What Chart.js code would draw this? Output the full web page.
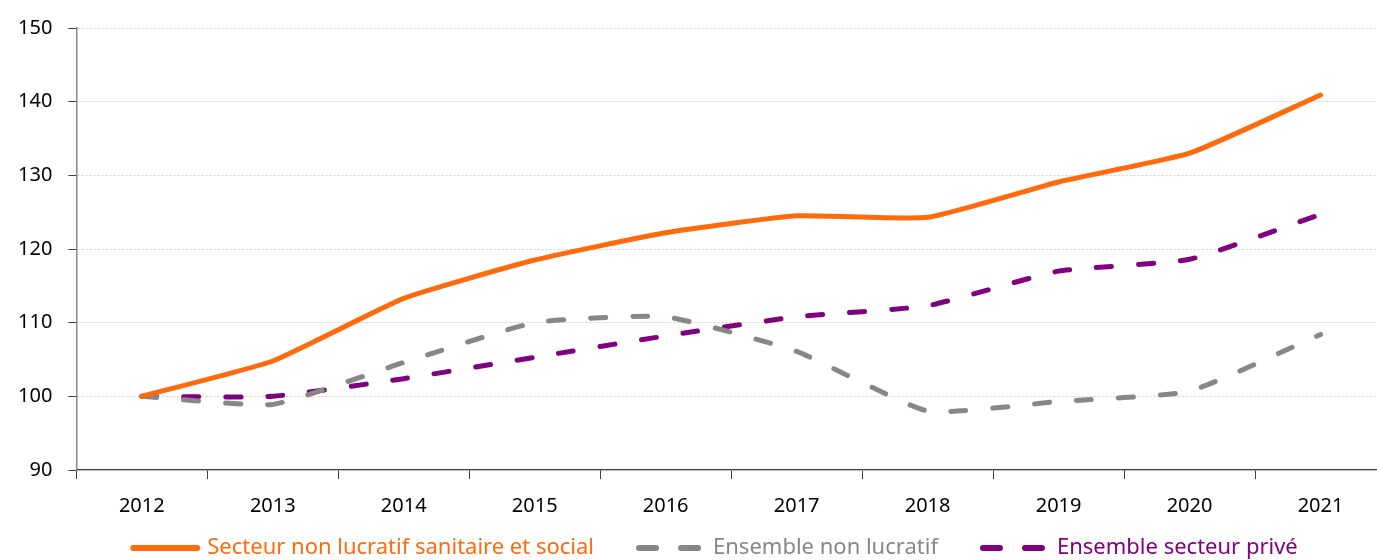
<!DOCTYPE html>
<html lang="fr">
<head>
<meta charset="utf-8">
<script src="https://cdn.jsdelivr.net/npm/chart.js@4/dist/chart.umd.min.js"></script>
<style>
  html, body { margin: 0; padding: 0; background: #fff; overflow: hidden; }
  #wrap { position: relative; width: 1386px; height: 560px; }
</style>
</head>
<body>
<div id="wrap"><canvas id="chart"></canvas></div>
<script>
const annees = ['2012', '2013', '2014', '2015', '2016', '2017', '2018', '2019', '2020', '2021'];
const sanitaireSocial = [100, 104.8, 113.3, 118.5, 122.2, 124.5, 124.3, 129.1, 133.0, 140.9];
const nonLucratif = [100, 98.9, 104.6, 110.0, 110.8, 106.1, 98.0, 99.3, 100.7, 108.4];
const secteurPrive = [100, 100, 102.4, 105.3, 108.2, 110.8, 112.3, 117.0, 118.6, 124.7];
const yTicks = [90, 100, 110, 120, 130, 140, 150];

const police = "'Noto Sans', 'Open Sans', sans-serif";

// légende dessinée à la main pour garder l'espacement de l'original
const legendeBas = {
    id: 'legendeBas',
    afterDraw(chart) {
        const c = chart.ctx;
        const y = 548;
        const trait = 70, ecart = 7, entre = 42;
        c.save();
        c.font = '22px ' + police;
        c.textBaseline = 'middle';
        const items = chart.data.datasets.map(ds => ({ ds, w: c.measureText(ds.label).width }));
        const total = items.reduce((s, it) => s + trait + ecart + it.w, 0) + entre * (items.length - 1);
        let x = 714 - total / 2;
        items.forEach(({ ds, w }) => {
            c.strokeStyle = ds.borderColor;
            c.lineWidth = 6;
            c.lineCap = 'round';
            c.setLineDash(ds.borderDash ? [17, 25] : []);
            c.beginPath();
            c.moveTo(x + 3, y);
            c.lineTo(x + trait - 3, y);
            c.stroke();
            c.setLineDash([]);
            c.fillStyle = ds.borderColor;
            c.fillText(ds.label, x + trait + ecart, y);
            x += trait + ecart + w + entre;
        });
        c.restore();
    }
};

const ctx = document.getElementById('chart').getContext('2d');
new Chart(ctx, {
    type: 'line',
    data: {
        labels: annees,
        datasets: [
            {
                label: 'Secteur non lucratif sanitaire et social',
                data: sanitaireSocial,
                borderColor: '#ff6a0d',
                borderWidth: 5,
                borderCapStyle: 'round',
                tension: 0.15,
                pointRadius: 0
            },
            {
                label: 'Ensemble non lucratif',
                data: nonLucratif,
                borderColor: '#878787',
                borderWidth: 5,
                borderDash: [15, 27],
                borderCapStyle: 'round',
                tension: 0.15,
                pointRadius: 0
            },
            {
                label: 'Ensemble secteur privé',
                data: secteurPrive,
                borderColor: '#800080',
                borderWidth: 5,
                borderDash: [15, 27],
                borderCapStyle: 'round',
                tension: 0.15,
                pointRadius: 0
            }
        ]
    },
    plugins: [legendeBas],
    options: {
        responsive: true,
        maintainAspectRatio: false,
        animation: false,
        layout: { padding: { top: -4, left: 2, right: 0, bottom: 27 } },
        plugins: {
            tooltip: { enabled: false },
            legend: { display: false }
        },
        scales: {
            x: {
                offset: true,
                grid: {
                    offset: true,
                    drawOnChartArea: false,
                    drawTicks: true,
                    tickLength: 9,
                    color: '#404040'
                },
                border: { color: '#404040', width: 1.2 },
                ticks: {
                    color: '#000',
                    padding: 15,
                    font: { family: police, size: 20 }
                }
            },
            y: {
                min: 90,
                max: 150,
                afterBuildTicks: (axis) => { axis.ticks = yTicks.map(v => ({ value: v })); },
                grid: {
                    color: '#d0d0d0',
                    tickColor: '#404040',
                    tickLength: 8,
                    tickBorderDash: [],
                    tickBorderDashOffset: 0
                },
                border: { color: '#888', width: 1.5, dash: [2, 2] },
                ticks: {
                    color: '#000',
                    padding: 16,
                    font: { family: police, size: 20 }
                }
            }
        }
    }
});
</script>
</body>
</html>
